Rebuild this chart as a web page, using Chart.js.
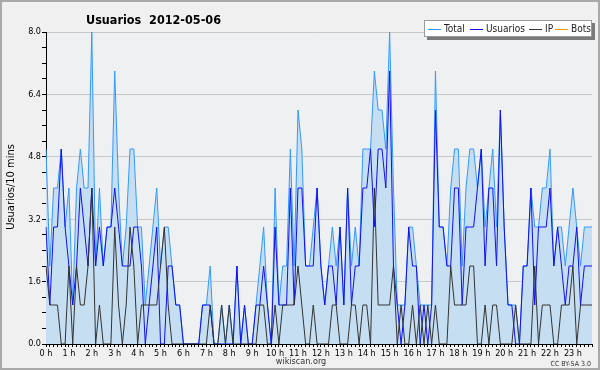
<!DOCTYPE html>
<html><head><meta charset="utf-8">
<script src="https://cdn.jsdelivr.net/npm/chart.js@4.4.0/dist/chart.umd.min.js"></script>
<style>html,body{margin:0;padding:0;background:#f0f0f0;}#wrap{width:600px;height:370px;position:relative;}</style>
</head><body><div id="wrap"><canvas id="c" width="600" height="370"></canvas></div>
<script>
const hourLabels = ['0 h','1 h','2 h','3 h','4 h','5 h','6 h','7 h','8 h','9 h','10 h','11 h','12 h','13 h','14 h','15 h','16 h','17 h','18 h','19 h','20 h','21 h','22 h','23 h'];
const yTickLabels = ['0.0','1.6','3.2','4.8','6.4','8.0'];
const total = [5,2,4,4,5,3,4,1,4,5, 4,4,8,2,4,2,3,3,7,4, 2,3,5,5,3,3,1,2,3,4, 2,3,3,2,1,1,0,0,0,0, 0,1,1,2,0,0,1,0,1,0, 2,0,1,0,0,1,2,3,1,0, 4,1,2,2,5,2,6,5,2,2, 3,4,2,1,2,3,2,3,1,4, 2,3,2,5,5,5,7,6,6,5, 8,4,1,1,1,3,3,2,1,1, 1,1,7,3,3,2,4,5,5,2, 4,5,5,4,5,3,4,5,3,6, 3,1,1,1,0,2,2,4,3,3, 4,4,5,2,3,3,2,3,4,3, 2,3,3,3];
const usuarios = [3,1,3,3,5,3,2,1,2,4, 3,2,4,2,3,2,3,3,4,3, 2,2,2,3,3,2,0,1,2,3, 0,0,2,2,1,1,0,0,0,0, 0,1,1,1,0,0,0,0,0,0, 2,0,1,0,0,1,1,2,1,0, 3,1,1,1,4,1,4,4,2,2, 2,4,2,1,2,2,1,3,1,4, 1,2,2,4,4,5,3,5,5,4, 7,2,1,0,1,3,2,2,0,1, 0,1,6,3,3,2,2,4,4,1, 3,3,3,4,5,2,4,4,2,6, 3,1,1,0,0,2,2,4,1,3, 3,3,4,2,3,2,1,2,2,3, 1,2,2,2];
const ip = [2,1,1,1,0,0,2,0,2,1, 1,2,4,0,1,0,0,0,3,1, 0,1,3,2,0,1,1,1,1,1, 2,3,1,0,0,0,0,0,0,0, 0,0,0,1,0,0,1,0,1,0, 0,0,0,0,0,0,1,1,0,0, 1,0,1,1,1,1,2,1,0,0, 1,0,0,0,0,1,1,0,0,0, 1,1,0,1,1,0,4,1,1,1, 1,2,0,1,0,0,1,0,1,0, 1,0,1,0,0,0,2,1,1,1, 1,2,2,0,0,1,0,1,1,0, 0,0,0,1,0,0,0,0,2,0, 1,1,1,0,0,1,1,1,2,0, 1,1,1,1];
const bots = [0,0,0,0,0,0,0,0,0,0, 0,0,0,0,0,0,0,0,0,0, 0,0,0,0,0,0,0,0,0,0, 0,0,0,0,0,0,0,0,0,0, 0,0,0,0,0,0,0,0,0,0, 0,0,0,0,0,0,0,0,0,0, 0,0,0,0,0,0,0,0,0,0, 0,0,0,0,0,0,0,0,0,0, 0,0,0,0,0,0,0,0,0,0, 0,0,0,0,0,0,0,0,0,0, 0,0,0,0,0,0,0,0,0,0, 0,0,0,0,0,0,0,0,0,0, 0,0,0,0,0,0,0,0,0,0, 0,0,0,0,0,0,0,0,0,0, 0,0,0,0];

const COL_TOTAL = '#3399ff', COL_FILL = 'rgba(198,222,241,1)', COL_USR = '#1010f0', COL_IP = '#333333', COL_BOTS = '#ff9900';
const FONT = '"DejaVu Sans Condensed", "DejaVu Sans", sans-serif';

const labels = [];
for (let i = 0; i < total.length; i++) labels.push(i % 6 === 0 ? hourLabels[i / 6] : '');

function isMajor(v) { const r = v / 1.6; return Math.abs(r - Math.round(r)) < 1e-6; }

const bgPlugin = {
  id: 'bg',
  beforeDraw(chart) {
    const ctx = chart.ctx, a = chart.chartArea;
    ctx.save();
    ctx.fillStyle = '#f0f0f0';
    ctx.fillRect(0, 0, chart.width, chart.height);
    ctx.strokeStyle = '#a8a8a8';
    ctx.lineWidth = 2;
    ctx.strokeRect(1, 1, chart.width - 2, chart.height - 2);
    ctx.fillStyle = '#eef0f2';
    ctx.fillRect(a.left, a.top, a.right - a.left, a.bottom - a.top);
    ctx.restore();
  },
  afterDraw(chart) {
    const ctx = chart.ctx;
    ctx.save();
    ctx.fillStyle = '#000';
    ctx.font = 'bold 12.5px ' + FONT;
    ctx.textBaseline = 'alphabetic';
    ctx.textAlign = 'left';
    ctx.fillText('Usuarios  2012-05-06', 86, 24);
    ctx.font = '11px ' + FONT;
    ctx.save();
    ctx.translate(11, 187);
    ctx.rotate(-Math.PI / 2);
    ctx.textAlign = 'center';
    ctx.textBaseline = 'middle';
    ctx.fillText('Usuarios/10 mins', 0, 0);
    ctx.restore();
    ctx.fillStyle = '#333';
    ctx.font = '9px ' + FONT;
    ctx.textAlign = 'center';
    ctx.textBaseline = 'middle';
    ctx.fillText('wikiscan.org', 301, 362);
    ctx.font = '7px ' + FONT;
    ctx.textAlign = 'right';
    ctx.fillText('CC BY-SA 3.0', 591, 364);
    const bx = 424, by = 20, bw = 168, bh = 17;
    ctx.fillStyle = '#7a7a7a';
    ctx.fillRect(bx + 3, by + 3, bw, bh);
    ctx.fillStyle = '#ffffff';
    ctx.fillRect(bx, by, bw, bh);
    ctx.strokeStyle = '#9a9a9a';
    ctx.lineWidth = 1;
    ctx.strokeRect(bx + 0.5, by + 0.5, bw - 1, bh - 1);
    const items = [
      { t: 'Total', c: COL_TOTAL, x: 428 },
      { t: 'Usuarios', c: COL_USR, x: 470 },
      { t: 'IP', c: COL_IP, x: 529 },
      { t: 'Bots', c: COL_BOTS, x: 555 }
    ];
    ctx.font = '10px ' + FONT;
    ctx.textAlign = 'left';
    ctx.textBaseline = 'middle';
    const ly = by + bh / 2 + 0.5;
    items.forEach(it => {
      ctx.strokeStyle = it.c;
      ctx.beginPath();
      ctx.moveTo(it.x, Math.round(ly) + 0.5);
      ctx.lineTo(it.x + 13, Math.round(ly) + 0.5);
      ctx.stroke();
      ctx.fillStyle = '#222';
      ctx.fillText(it.t, it.x + 16, ly);
    });
    ctx.restore();
  }
};

new Chart(document.getElementById('c'), {
  type: 'line',
  data: {
    labels: labels,
    datasets: [
      { label: 'IP', data: ip, borderColor: COL_IP, borderWidth: 1, pointRadius: 0, fill: false, tension: 0 },
      { label: 'Usuarios', data: usuarios, borderColor: COL_USR, borderWidth: 1, pointRadius: 0, fill: false, tension: 0 },
      { label: 'Total', data: total, borderColor: COL_TOTAL, backgroundColor: COL_FILL, borderWidth: 1, pointRadius: 0, fill: 'origin', tension: 0 },
      { label: 'Bots', data: bots, borderColor: COL_BOTS, borderWidth: 1, pointRadius: 0, fill: false, hidden: true }
    ]
  },
  options: {
    responsive: false,
    animation: false,
    devicePixelRatio: 1,
    layout: { padding: { left: 0, top: 32, right: 8, bottom: 0 } },
    plugins: { legend: { display: false }, tooltip: { enabled: false }, title: { display: false } },
    scales: {
      x: {
        type: 'category',
        offset: false,
        grid: { drawOnChartArea: false, drawTicks: true, tickLength: 3, tickColor: '#000', color: '#000' },
        border: { color: '#000', width: 1 },
        ticks: { autoSkip: false, maxRotation: 0, minRotation: 0, padding: 1, color: '#000', font: { family: FONT, size: 9 } },
        afterFit: s => { s.height = 26; }
      },
      y: {
        min: 0, max: 8,
        grid: {
          color: c => (c.tick && isMajor(c.tick.value) && c.tick.value > 0.01) ? '#c8c8c8' : 'rgba(0,0,0,0)',
          tickColor: '#000', tickLength: 4, drawTicks: true
        },
        border: { color: '#000', width: 1 },
        ticks: {
          stepSize: 0.4, autoSkip: false, padding: 1, color: '#000', font: { family: FONT, size: 9 },
          callback: v => isMajor(v) ? yTickLabels[Math.round(v / 1.6)] : ''
        },
        afterFit: s => { s.width = 46; }
      }
    }
  },
  plugins: [bgPlugin]
});
</script></body></html>
